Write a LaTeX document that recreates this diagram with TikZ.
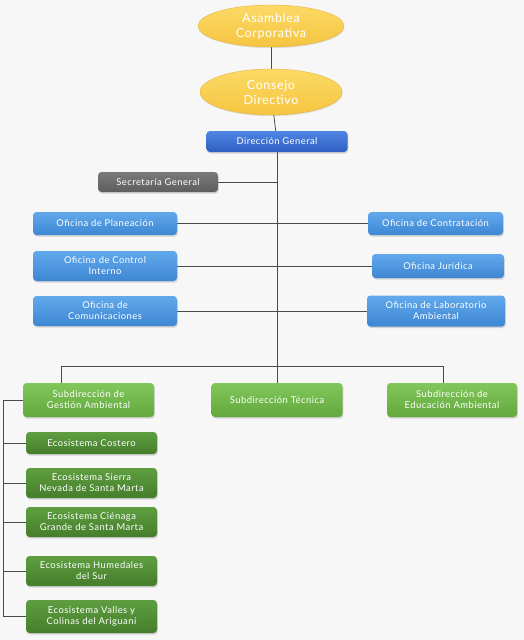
\documentclass[tikz,border=0pt]{standalone}
\usepackage{fontspec}
\setmainfont{Lato}[LetterSpace=5]
\usetikzlibrary{shapes.geometric,shadows,backgrounds}
\definecolor{bg}{HTML}{F7F7F7}
\definecolor{ln}{HTML}{4A4A4A}
\definecolor{yelT}{HTML}{FCDA66}
\definecolor{yelB}{HTML}{F5C540}
\definecolor{yelD}{HTML}{E8B33C}
\definecolor{dirT}{HTML}{4F86E3}
\definecolor{dirB}{HTML}{2F5EC2}
\definecolor{ofT}{HTML}{62A9EC}
\definecolor{ofB}{HTML}{3D86D2}
\definecolor{grT}{HTML}{7A7A7A}
\definecolor{grB}{HTML}{5E5E5E}
\definecolor{sgT}{HTML}{82C75C}
\definecolor{sgB}{HTML}{62A83C}
\definecolor{ecT}{HTML}{5E9E40}
\definecolor{ecB}{HTML}{457E2B}
\tikzset{
  every node/.style={text=white, inner sep=0pt, align=center},
  boxbase/.style={rectangle, rounded corners=3.5pt, drop shadow={shadow xshift=0.8pt, shadow yshift=-1.6pt, opacity=0.3}, font=\fontsize{9.4}{11}\selectfont},
  ell/.style={ellipse, top color=yelT, bottom color=yelB, draw=yelD, line width=0.4pt, drop shadow={shadow xshift=0.6pt, shadow yshift=-1.2pt, opacity=0.2}, font=\fontsize{12.5}{15}\selectfont},
  dirbox/.style={boxbase, top color=dirT, bottom color=dirB},
  ofbox/.style={boxbase, top color=ofT, bottom color=ofB},
  secbox/.style={boxbase, top color=grT, bottom color=grB},
  subbox/.style={boxbase, top color=sgT, bottom color=sgB},
  ecobox/.style={boxbase, top color=ecT, bottom color=ecB},
  conn/.style={draw=ln, line width=0.8pt},
}
\begin{document}
\begin{tikzpicture}[x=1pt,y=-1pt]
\useasboundingbox (0,0) rectangle (524,640);

\node[ell, minimum width=146pt, minimum height=42pt] (asam) at (271,26) {Asamblea\\Corporativa};
\node[ell, minimum width=142pt, minimum height=46pt] (cons) at (271,92) {Consejo\\Directivo};
\node[dirbox, minimum width=141pt, minimum height=21pt] (dir) at (277,141.5) {Dirección General};
\node[secbox, minimum width=120pt, minimum height=20pt] (sec) at (158,182) {Secretaría General};

\node[ofbox, minimum width=144pt, minimum height=23pt] (plan) at (105,223.5) {Oficina de Planeación};
\node[ofbox, minimum width=135pt, minimum height=23pt] (cont) at (435.5,223.5) {Oficina de Contratación};
\node[ofbox, minimum width=144pt, minimum height=30pt] (ctrl) at (105,266) {Oficina de Control\\Interno};
\node[ofbox, minimum width=132pt, minimum height=24pt] (jur) at (438,266) {Oficina Jurídica};
\node[ofbox, minimum width=144pt, minimum height=30pt] (com) at (105,311) {Oficina de\\Comunicaciones};
\node[ofbox, minimum width=138pt, minimum height=31pt] (lab) at (436,311) {Oficina de Laboratorio\\Ambiental};

\node[subbox, minimum width=131pt, minimum height=34pt] (sga) at (88.5,400) {Subdirección de\\Gestión Ambiental};
\node[subbox, minimum width=131pt, minimum height=34pt] (st) at (277,400) {Subdirección Técnica};
\node[subbox, minimum width=130pt, minimum height=34pt] (sea) at (452,400) {Subdirección de\\Educación Ambiental};

\node[ecobox, minimum width=131pt, minimum height=22pt] (e1) at (91.5,443) {Ecosistema Costero};
\node[ecobox, minimum width=131pt, minimum height=30pt] (e2) at (91.5,483) {Ecosistema Sierra\\Nevada de Santa Marta};
\node[ecobox, minimum width=131pt, minimum height=30pt] (e3) at (91.5,522) {Ecosistema Ciénaga\\Grande de Santa Marta};
\node[ecobox, minimum width=131pt, minimum height=30pt] (e4) at (91.5,571) {Ecosistema Humedales\\del Sur};
\node[ecobox, minimum width=131pt, minimum height=33pt] (e5) at (91.5,616.5) {Ecosistema Valles y\\Colinas del Ariguaní};

\coordinate (busL) at (61,366);
\coordinate (busR) at (443,366);
\coordinate (rail) at (3,400);

\begin{scope}[on background layer]
\fill[bg] (0,0) rectangle (524,640);
\draw[conn] (asam) -- (cons);
\draw[conn] (cons) -- (dir);
\draw[conn] (dir.south) -- (st.north);
\draw[conn] (sec.east) -- (sec.east -| dir.south);
\draw[conn] (plan.east) -- (cont.west);
\draw[conn] (ctrl.east) -- (jur.west);
\draw[conn] (com.east) -- (lab.west);
\draw[conn] (busL) -- (busR);
\draw[conn] (busL) -- (busL |- sga.north);
\draw[conn] (busR) -- (busR |- sea.north);
\draw[conn] (sga.west) -- (rail) -- (rail |- e5.west);
\draw[conn] (e1.west) -- (rail |- e1.west);
\draw[conn] (e2.west) -- (rail |- e2.west);
\draw[conn] (e3.west) -- (rail |- e3.west);
\draw[conn] (e4.west) -- (rail |- e4.west);
\draw[conn] (e5.west) -- (rail |- e5.west);
\end{scope}
\end{tikzpicture}
\end{document}
